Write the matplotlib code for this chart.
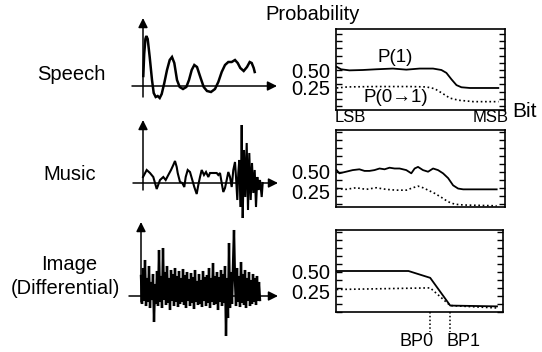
import matplotlib
matplotlib.use("Agg")
import matplotlib.pyplot as plt
from matplotlib.ticker import MultipleLocator, FixedLocator

plt.rcParams['font.family'] = ['Liberation Sans', 'DejaVu Sans']

# ---- left: example signals (time, amplitude in arbitrary units) ----
speech_t = [0.3, 1.2, 2.4, 3.3, 4.7, 6.7, 9, 10.7, 12.7, 14.7, 16.7, 18.7, 21.3, 24, 26.7, 29,
            31.3, 34, 36.7, 40, 43.3, 46, 48.7, 51.3, 54, 57.3, 60.7, 64, 68, 72, 75.3,
            78.7, 82, 85.3, 88.7, 92, 94.7, 97.3, 100.7, 104, 106.7, 108.7, 110.7, 111.7]
speech_a = [10, 32, 47, 50, 47, 29, 6, -7, -11, -10, -12, -8, 3, 16, 26, 29,
            23, 6, -1, -3, -1, 6, 16, 21, 19, 9, -1, -5, -6, -3, 4,
            14, 21, 24, 24, 26, 23, 18, 15, 19, 24, 23, 18, 14]

music_t = [0, 3.7, 7, 10.3, 13.7, 17, 20.3, 22.7, 25.3, 28, 30.3, 32, 33.7, 34.7, 37,
           39.3, 41.3, 42.7, 44.7, 47, 49.3, 51.3, 53.7, 55.3, 57, 58.7, 61, 63, 65.3, 67,
           70.3, 73.7, 75.3, 77, 78.7, 80.3, 82, 83.7, 85.3, 87, 88.7, 90.3, 92, 93, 94.3,
           95.3, 96.3, 97.7, 98.7, 99.7, 101, 102.3, 103.7, 105, 106.3, 107.7, 109, 110.3,
           111.7, 113, 114.3, 115.7, 117, 118.7, 119.7]
music_a = [6, 13, 10, 6, -6, 3, 6, 3, 8, 13, 18, 22, 16, 10, 1,
           0, -4, 6, 13, 11, 3, -4, -11, -2, 6, 13, 8, 11, 6, 10,
           10, 10, 8, 10, 0, -9, -5, 3, 11, 6, -4, 13, 21, 6, -17,
           10, 23, -24, 58, -35, 33, -14, 40, -27, 30, -17, 20, -10,
           13, -24, 6, -7, 3, -14, 0]

image_a = [20, -8, 28, -5, 36, -10, 18, -6, 30, -12,
           14, -4, 22, -26, 12, -8, 25, -10, 46, -6,
           20, -12, 48, -4, 24, -9, 30, -7, 18, -14,
           26, -5, 22, -10, 28, -6, 20, -11, 25, -8,
           18, -6, 27, -9, 21, -12, 24, -5, 17, -10,
           23, -7, 19, -13, 26, -6, 15, -9, 22, -8,
           16, -11, 25, -5, 19, -10, 21, -7, 28, -12,
           18, -6, 33, -9, 20, -8, 24, -14, 19, -6,
           26, -10, 22, -7, 30, -40, 18, -22, 53, -12,
           24, -8, 30, 66, 15, -10, 28, -6, 20, -11,
           34, -7, 22, -9, 26, -12, 18, -5, 24, -10,
           16, -8, 22, -6, 18, -9, 20, -5, 14, -4]
image_t = list(range(len(image_a)))

# ---- right: bit probabilities (bit position LSB -> MSB) ----
sp_p1_bit = [0.06, 0.46, 1.24, 2.47, 3.71, 5.25, 6.49, 7.72, 8.96, 9.73, 10.19, 10.66, 11.12, 11.58, 12.36, 14.98]
sp_p1 = [0.545, 0.51, 0.495, 0.50, 0.51, 0.52, 0.505, 0.52, 0.52, 0.50, 0.46, 0.37, 0.29, 0.26, 0.25, 0.25]
sp_p01_bit = [0.06, 1.08, 3.71, 6.8, 8.34, 9.11, 9.88, 10.5, 11.3, 12.7, 15.0]
sp_p01 = [0.25, 0.265, 0.27, 0.27, 0.265, 0.24, 0.17, 0.11, 0.08, 0.06, 0.06]

mu_p1_bit = [0.06, 0.31, 0.93, 1.54, 2.16, 2.63, 3.09, 3.55, 4.02, 4.48, 4.94, 5.41, 5.87, 6.49,
             6.95, 7.26, 7.57, 8.03, 8.5, 8.96, 9.42, 9.88, 10.35, 10.81, 11.27, 11.74, 14.83]
mu_p1 = [0.52, 0.48, 0.50, 0.52, 0.53, 0.51, 0.51, 0.52, 0.54, 0.53, 0.55, 0.54, 0.54, 0.52,
         0.48, 0.54, 0.56, 0.52, 0.50, 0.54, 0.52, 0.48, 0.42, 0.33, 0.29, 0.28, 0.28]
mu_p01_bit = [0.06, 0.93, 1.85, 2.78, 3.71, 4.63, 5.56, 6.49, 7.1, 7.57, 8.03, 8.5, 9.11,
              9.73, 10.35, 10.96, 11.74, 14.83]
mu_p01 = [0.29, 0.28, 0.30, 0.28, 0.30, 0.28, 0.27, 0.27, 0.30, 0.32, 0.30, 0.27, 0.23,
          0.18, 0.125, 0.095, 0.085, 0.075]

im_p1_bit = [0.06, 6.77, 8.8, 10.67, 15.04]
im_p1 = [0.51, 0.51, 0.425, 0.08, 0.07]
im_p01_bit = [0.06, 8.8, 10.67, 15.04]
im_p01 = [0.28, 0.30, 0.08, 0.05]
bp_bits = [8.8, 10.67]
bp_labels = ['BP0', 'BP1']

W, H = 542, 352
fig = plt.figure(figsize=(W / 100, H / 100), dpi=100)


def px_axes(left, top, right, bottom):
    return fig.add_axes([left / W, 1 - bottom / H, (right - left) / W, (bottom - top) / H])


def ftext(x, y, s, size=14.5, **kw):
    fig.text(x / W, 1 - y / H, s, fontsize=size, ha='center', va='center', **kw)


# signal panels: one data unit = one pixel, origin at the axis cross
def signal_panel(box, origin, t, a, xaxis, yaxis, lw):
    left, top, right, bottom = box
    ox, oy = origin
    ax = px_axes(*box)
    ax.set_xlim(left - ox, right - ox)
    ax.set_ylim(oy - bottom, oy - top)
    ax.axis('off')
    arrow = dict(arrowstyle='-|>', color='k', lw=1.1, mutation_scale=14, shrinkA=0, shrinkB=0)
    ax.annotate('', xy=(xaxis[1], 0), xytext=(xaxis[0], 0), arrowprops=arrow)
    ax.annotate('', xy=(0, yaxis[1]), xytext=(0, yaxis[0]), arrowprops=arrow)
    ax.plot(t, a, color='k', lw=lw, solid_joinstyle='miter')


signal_panel((126, 12, 284, 100), (143, 86), speech_t, speech_a, (-11, 134), (-11, 68), 1.8)
signal_panel((126, 114, 284, 224), (143, 183), music_t, music_a, (-10, 135), (-7, 63), 1.5)
signal_panel((126, 216, 284, 345), (141, 296), image_t, image_a, (-12, 137), (-6, 74), 1.7)


# probability boxes
def prob_box(box, ylim, p1_bit, p1, p01_bit, p01):
    ax = px_axes(*box)
    ax.set_xlim(0, 15.6)
    ax.set_ylim(*ylim)
    ax.plot(p1_bit, p1, color='k', lw=1.3)
    ax.plot(p01_bit, p01, color='k', lw=1.2, linestyle=(0, (1, 1.6)))
    for sp in ax.spines.values():
        sp.set_linewidth(1.2)
    ax.set_xticks([])
    ax.yaxis.set_major_locator(FixedLocator([0.25, 0.5]))
    ax.set_yticklabels(['0.25', '0.50'], fontsize=14.5)
    ax.yaxis.set_minor_locator(MultipleLocator(0.1))
    ax.yaxis.remove_overlapping_locs = False
    ax.tick_params(axis='y', which='major', length=0, pad=4.5)
    ax.tick_params(axis='y', which='minor', direction='in', length=4, width=1,
                   left=True, right=True)
    return ax


prob_box((336, 29, 505, 110), (-0.056, 1.07), sp_p1_bit, sp_p1, sp_p01_bit, sp_p01)
prob_box((336, 130, 505, 207), (0.06, 1.02), mu_p1_bit, mu_p1, mu_p01_bit, mu_p01)
ax3 = prob_box((336, 230, 503, 312), (0.0, 1.02), im_p1_bit, im_p1, im_p01_bit, im_p01)

for b in bp_bits:
    ax3.plot([b, b], [0.0, -0.25], color='k', lw=1.1, linestyle=(0, (1, 1.5)), clip_on=False)

ftext(71, 74, 'Speech')
ftext(70, 174, 'Music')
ftext(69, 264, 'Image')
ftext(65, 288, '(Differential)')
ftext(313, 15, 'Probability')
ftext(395, 58, 'P(1)', size=13.5)
ftext(396, 97, 'P(0\u21921)', size=13.5)
ftext(350, 118, 'LSB', size=12)
ftext(491, 118, 'MSB', size=12)
ftext(525, 111, 'Bit', size=15)
ftext(417, 342, bp_labels[0], size=13)
ftext(463, 342, bp_labels[1], size=13)

fig.savefig('out.png', dpi=100)
